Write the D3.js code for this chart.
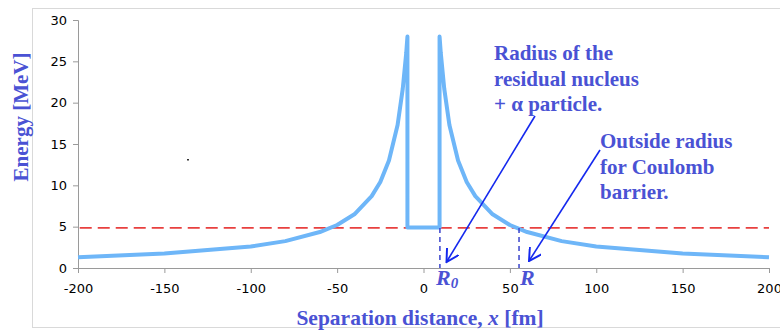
<!DOCTYPE html>
<html>
<head>
<meta charset="utf-8">
<script src="https://cdn.jsdelivr.net/npm/d3@7"></script>
<style>
  body { margin: 0; background: #fff; }
  svg { display: block; }
  .tick text { font-family: "DejaVu Sans", Verdana, sans-serif; font-size: 13px; fill: #000; }
  .note { font-family: "Liberation Serif", "Times New Roman", serif; font-weight: bold; fill: #4a52d4; }
</style>
</head>
<body>
<div id="chart"></div>
<script>
// potential curve (fm, MeV)
const sepX = [-200, -150, -100, -80, -60, -50, -40, -30, -25, -20, -15, -12, -10, -9.3,
              -9.3, 9.3,
              9.3, 10, 12, 15, 20, 25, 30, 40, 50, 60, 80, 100, 150, 200];
const energy = [1.3, 1.75, 2.6, 3.25, 4.35, 5.2, 6.5, 8.7, 10.4, 13, 17.3, 21.7, 26, 28,
                4.9, 4.9,
                28, 26, 21.7, 17.3, 13, 10.4, 8.7, 6.5, 5.2, 4.35, 3.25, 2.6, 1.75, 1.3];
const alphaEnergy = 4.85;
const r0 = 9.5, rOuter = 55.3;
const xTicks = [-200, -150, -100, -50, 0, 50, 100, 150, 200];
const yTicks = [0, 5, 10, 15, 20, 25, 30];
const note1 = ["Radius of the", "residual nucleus", "+ \u03b1 particle."];
const note2 = ["Outside radius", "for Coulomb", "barrier."];

const W = 780, H = 334;
const margin = { left: 78, right: 11, top: 20, bottom: 66 };

const svg = d3.select("#chart").append("svg")
  .attr("width", W).attr("height", H);

// chart frame
svg.append("rect")
  .attr("x", 32.5).attr("y", 8.5)
  .attr("width", W).attr("height", 319)
  .attr("fill", "none").attr("stroke", "#d9d9d9");

const x = d3.scaleLinear().domain([-200, 200]).range([margin.left, W - margin.right]);
const y = d3.scaleLinear().domain([0, 30]).range([H - margin.bottom, margin.top]);

// axes (plain hyphen minus like the original)
const fmt = d => String(d);
const xAxis = svg.append("g")
  .attr("transform", `translate(0,${y(0)})`)
  .call(d3.axisBottom(x).tickValues(xTicks).tickFormat(fmt).tickSize(5).tickPadding(11));
const yAxis = svg.append("g")
  .attr("transform", `translate(${x(-200)},0)`)
  .call(d3.axisLeft(y).tickValues(yTicks).tickFormat(fmt).tickSize(5).tickPadding(6));
[xAxis, yAxis].forEach(a => {
  a.selectAll("path, line").attr("stroke", "#9a9a9a");
});

// alpha energy level
svg.append("line")
  .attr("x1", x(-199)).attr("x2", x(200))
  .attr("y1", y(alphaEnergy)).attr("y2", y(alphaEnergy))
  .attr("stroke", "#e8403f").attr("stroke-width", 1.6)
  .attr("stroke-dasharray", "12,6");

// potential
const pts = sepX.map((v, i) => [v, energy[i]]);
const line = d3.line().x(d => x(d[0])).y(d => y(d[1]));
svg.append("path")
  .datum(pts)
  .attr("d", line)
  .attr("fill", "none")
  .attr("stroke", "#6eb6f8")
  .attr("stroke-width", 4)
  .attr("stroke-linejoin", "round");

// radius markers
[r0, rOuter].forEach(r => {
  svg.append("line")
    .attr("x1", x(r)).attr("x2", x(r))
    .attr("y1", y(alphaEnergy)).attr("y2", y(0))
    .attr("stroke", "#3a44cc").attr("stroke-width", 1.5)
    .attr("stroke-dasharray", "5,4");
});

// arrows
const defs = svg.append("defs");
defs.append("marker")
  .attr("id", "head").attr("viewBox", "0 0 10 10")
  .attr("refX", 9).attr("refY", 5)
  .attr("markerWidth", 14).attr("markerHeight", 14)
  .attr("markerUnits", "userSpaceOnUse")
  .attr("orient", "auto")
  .append("path")
  .attr("d", "M0,0 L9,5 L0,10")
  .attr("fill", "none").attr("stroke", "#1428ee").attr("stroke-width", 1.4);

const arrows = [
  { from: [535, 116], to: [446.5, 262] },
  { from: [600, 150], to: [529, 261] }
];
arrows.forEach(a => {
  svg.append("line")
    .attr("x1", a.from[0]).attr("y1", a.from[1])
    .attr("x2", a.to[0]).attr("y2", a.to[1])
    .attr("stroke", "#1428ee").attr("stroke-width", 1.6)
    .attr("marker-end", "url(#head)");
});

// notes
function block(lines, x0, y0) {
  const t = svg.append("text").attr("class", "note").attr("font-size", 21);
  lines.forEach((s, i) => {
    t.append("tspan").attr("x", x0).attr("y", y0 + i * 25.5).text(s);
  });
}
block(note1, 494, 60);
block(note2, 600, 148);

// R labels
const r0Label = svg.append("text").attr("class", "note")
  .attr("font-size", 22).attr("font-style", "italic")
  .attr("x", 436).attr("y", 285);
r0Label.append("tspan").text("R");
r0Label.append("tspan").attr("font-size", 15).attr("dy", 3).text("0");
svg.append("text").attr("class", "note")
  .attr("font-size", 22).attr("font-style", "italic")
  .attr("x", 520).attr("y", 285).text("R");

// axis titles
const xt = svg.append("text").attr("class", "note")
  .attr("font-size", 21.5)
  .attr("text-anchor", "middle")
  .attr("x", 420).attr("y", 325);
xt.append("tspan").text("Separation distance, ");
xt.append("tspan").attr("font-style", "italic").text("x");
xt.append("tspan").text(" [fm]");

svg.append("text").attr("class", "note")
  .attr("font-size", 21)
  .attr("text-anchor", "middle")
  .attr("transform", "translate(28,117) rotate(-90)")
  .text("Energy [MeV]");

// stray mark in the original
svg.append("rect").attr("x", 187).attr("y", 159).attr("width", 2).attr("height", 1.5).attr("fill", "#333");
</script>
</body>
</html>
